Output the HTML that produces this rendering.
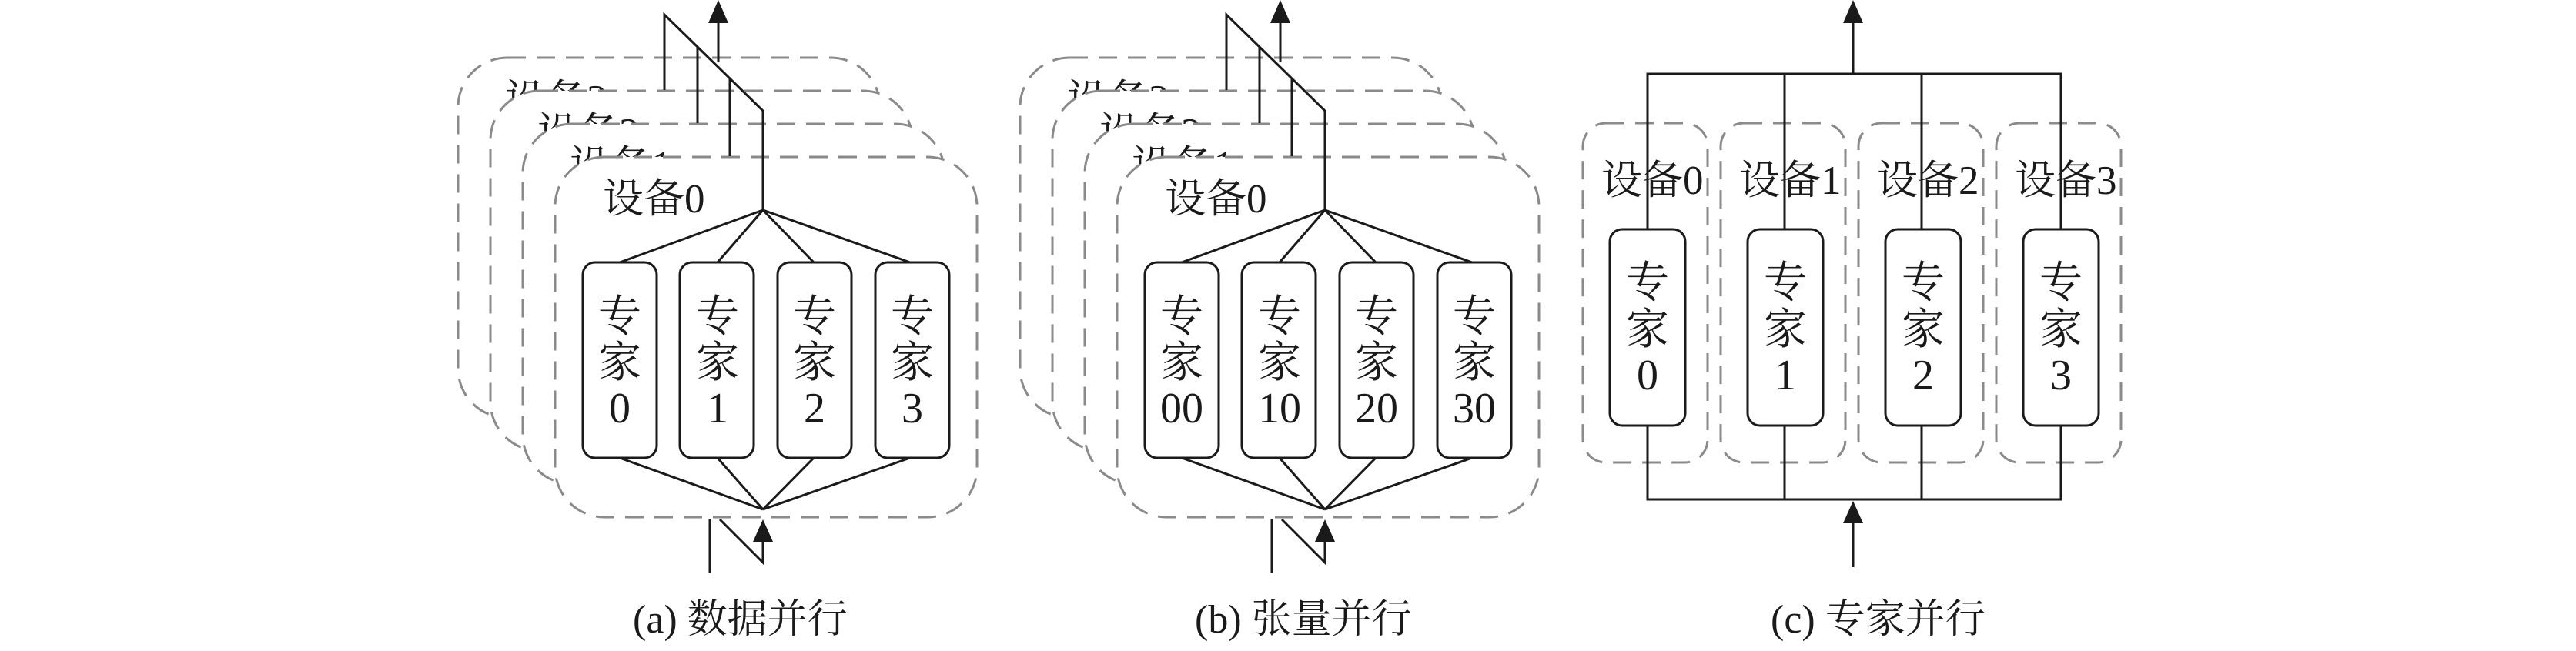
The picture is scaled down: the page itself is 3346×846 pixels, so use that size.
<!DOCTYPE html>
<html><head><meta charset="utf-8"><style>
html,body{margin:0;padding:0;background:#fff;}
svg{display:block;}
text{font-family:"Liberation Serif","Noto Serif CJK SC",serif;fill:#1a1a1a;}
</style></head><body>
<svg width="3346" height="846" viewBox="0 0 3346 846" xmlns="http://www.w3.org/2000/svg">

<g id="pa">
  <rect x="595" y="75" width="548" height="468" rx="64" fill="#fff" stroke="#8a8a8a" stroke-width="3" stroke-dasharray="24 14"/>
  <text x="656" y="147" font-size="53">设备3</text>
  <rect x="637" y="118" width="548" height="468" rx="64" fill="#fff" stroke="#8a8a8a" stroke-width="3" stroke-dasharray="24 14"/>
  <text x="698" y="190" font-size="53">设备2</text>
  <rect x="679" y="161" width="548" height="468" rx="64" fill="#fff" stroke="#8a8a8a" stroke-width="3" stroke-dasharray="24 14"/>
  <text x="740" y="233" font-size="53">设备1</text>
  <rect x="721" y="204" width="548" height="468" rx="64" fill="#fff" stroke="#8a8a8a" stroke-width="3" stroke-dasharray="24 14"/>
  <text x="783" y="276" font-size="53">设备0</text>
  <g fill="none" stroke="#1a1a1a" stroke-width="3">
    <polyline points="863,117 863,19 991,144 991,273"/>
    <line x1="906" y1="62" x2="906" y2="160"/>
    <line x1="948" y1="102" x2="948" y2="203"/>
    <line x1="933" y1="81" x2="933" y2="28"/>
    <line x1="991" y1="273" x2="805" y2="341"/>
    <line x1="991" y1="273" x2="932" y2="341"/>
    <line x1="991" y1="273" x2="1057" y2="341"/>
    <line x1="991" y1="273" x2="1182" y2="341"/>
    <line x1="991" y1="662" x2="805" y2="595"/>
    <line x1="991" y1="662" x2="932" y2="595"/>
    <line x1="991" y1="662" x2="1057" y2="595"/>
    <line x1="991" y1="662" x2="1182" y2="595"/>
    <line x1="922" y1="675" x2="922" y2="745"/>
    <polyline points="935,675 991,731 991,702"/>
  </g>
  <polygon points="933,0 920,30 946,30" fill="#1a1a1a"/>
  <polygon points="991,675 978,704 1004,704" fill="#1a1a1a"/>
  <g fill="#fff" stroke="#1a1a1a" stroke-width="3">
    <rect x="757" y="341" width="96" height="254" rx="16"/>
    <rect x="883" y="341" width="96" height="254" rx="16"/>
    <rect x="1010" y="341" width="96" height="254" rx="16"/>
    <rect x="1137" y="341" width="96" height="254" rx="16"/>
  </g>
  <g font-size="56" text-anchor="middle">
    <text x="805" y="430">专</text><text x="805" y="490">家</text>
    <text x="932" y="430">专</text><text x="932" y="490">家</text>
    <text x="1058" y="430">专</text><text x="1058" y="490">家</text>
    <text x="1185" y="430">专</text><text x="1185" y="490">家</text>
  </g>
</g>
<g font-size="56" text-anchor="middle">
  <text x="805" y="549">0</text><text x="932" y="549">1</text><text x="1058" y="549">2</text><text x="1185" y="549">3</text>
</g>
<text x="822" y="822" font-size="52">(a)  数据并行</text>

<use href="#pa" transform="translate(730,0)"/>
<g font-size="56" text-anchor="middle">
  <text x="1535" y="549">00</text><text x="1662" y="549">10</text><text x="1788" y="549">20</text><text x="1915" y="549">30</text>
</g>
<text x="1552" y="822" font-size="52">(b)  张量并行</text>

<g fill="none" stroke="#8a8a8a" stroke-width="3" stroke-dasharray="24 14">
  <rect x="2056" y="160" width="162" height="441" rx="30"/>
  <rect x="2235" y="160" width="162" height="441" rx="30"/>
  <rect x="2414" y="160" width="162" height="441" rx="30"/>
  <rect x="2593" y="160" width="162" height="441" rx="30"/>
</g>
<g font-size="53">
  <text x="2080" y="252">设备0</text>
  <text x="2259" y="252">设备1</text>
  <text x="2438" y="252">设备2</text>
  <text x="2617" y="252">设备3</text>
</g>
<g fill="none" stroke="#1a1a1a" stroke-width="3">
  <polyline points="2140,298 2140,96 2677,96 2677,298"/>
  <line x1="2318" y1="96" x2="2318" y2="298"/>
  <line x1="2496" y1="96" x2="2496" y2="298"/>
  <polyline points="2140,553 2140,649 2677,649 2677,553"/>
  <line x1="2318" y1="553" x2="2318" y2="649"/>
  <line x1="2496" y1="553" x2="2496" y2="649"/>
  <line x1="2407" y1="96" x2="2407" y2="28"/>
  <line x1="2407" y1="737" x2="2407" y2="678"/>
</g>
<polygon points="2407,0 2394,30 2420,30" fill="#1a1a1a"/>
<polygon points="2407,651 2394,680 2420,680" fill="#1a1a1a"/>
<g fill="#fff" stroke="#1a1a1a" stroke-width="3">
  <rect x="2091" y="298" width="98" height="255" rx="16"/>
  <rect x="2270" y="298" width="98" height="255" rx="16"/>
  <rect x="2449" y="298" width="98" height="255" rx="16"/>
  <rect x="2628" y="298" width="98" height="255" rx="16"/>
</g>
<g font-size="56" text-anchor="middle">
  <text x="2140" y="386">专</text><text x="2140" y="447">家</text>
  <text x="2319" y="386">专</text><text x="2319" y="447">家</text>
  <text x="2498" y="386">专</text><text x="2498" y="447">家</text>
  <text x="2677" y="386">专</text><text x="2677" y="447">家</text>
</g>
<g font-size="56" text-anchor="middle">
  <text x="2140" y="506">0</text><text x="2319" y="506">1</text><text x="2498" y="506">2</text><text x="2677" y="506">3</text>
</g>
<text x="2300" y="822" font-size="52">(c)  专家并行</text>
</svg>
</body></html>
